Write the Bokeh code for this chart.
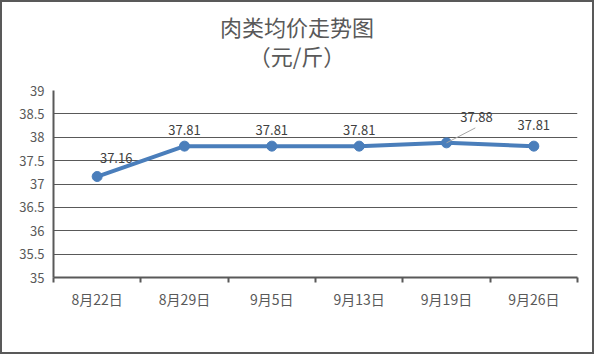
from bokeh.plotting import figure
from bokeh.models import (Range1d, FixedTicker, ColumnDataSource, Div)
from bokeh.layouts import column
from bokeh.core.properties import value
from bokeh.embed import file_html
from bokeh.resources import INLINE

categories = ["8月22日", "8月29日", "9月5日", "9月13日", "9月19日", "9月26日"]
prices = [37.16, 37.81, 37.81, 37.81, 37.88, 37.81]
label_texts = ["37.16", "37.81", "37.81", "37.81", "37.88", "37.81"]
y_ticks = [35, 35.5, 36, 36.5, 37, 37.5, 38, 38.5, 39]
y_tick_labels = ["35", "35.5", "36", "36.5", "37", "37.5", "38", "38.5", "39"]
title_lines = ["肉类均价走势图", "（元/斤）"]

# label offsets in screen pixels (style, not data); negative dy = upwards
label_dx = [19, 0, 0, 0, 30, 0]
label_dy = [-19, -16, -16, -16, -26, -21]

FONT = "Noto Sans CJK SC"
GRAY = "#595959"
LINE = "#4A7EBB"

xs = [i + 0.5 for i in range(len(categories))]

title_div = Div(text="<br>".join(title_lines), width=590, height=70,
                styles={"text-align": "center", "font-family": f"'{FONT}'",
                        "font-size": "22px", "line-height": "29px", "color": GRAY,
                        "padding-top": "10px", "box-sizing": "border-box",
                        "width": "590px", "margin": "0"})

p = figure(width=590, height=280, output_backend="svg", toolbar_location=None,
           x_range=Range1d(0, len(categories)), y_range=Range1d(35, 39),
           min_border_left=51, min_border_right=15, min_border_bottom=75, min_border_top=18)
p.outline_line_color = None
p.background_fill_color = "white"
p.border_fill_color = "white"

# x axis
p.xaxis.ticker = FixedTicker(ticks=xs, minor_ticks=list(range(len(categories) + 1)))
p.xaxis.major_label_overrides = {x: c for x, c in zip(xs, categories)}
p.xaxis.major_tick_line_color = None
p.xaxis.major_tick_out = 0
p.xaxis.major_tick_in = 0
p.xaxis.minor_tick_line_color = GRAY
p.xaxis.minor_tick_line_width = 2
p.xaxis.minor_tick_in = 0
p.xaxis.minor_tick_out = 5
p.xaxis.axis_line_color = GRAY
p.xaxis.axis_line_width = 2
p.xaxis.major_label_text_font = FONT
p.xaxis.major_label_text_font_size = "14px"
p.xaxis.major_label_text_color = GRAY
p.xaxis.major_label_standoff = 6
p.xgrid.grid_line_color = None

# y axis
p.yaxis.ticker = FixedTicker(ticks=y_ticks)
p.yaxis.major_label_overrides = {v: s for v, s in zip(y_ticks, y_tick_labels)}
p.yaxis.major_tick_line_color = None
p.yaxis.major_tick_out = 0
p.yaxis.major_tick_in = 0
p.yaxis.minor_tick_line_color = None
p.yaxis.axis_line_color = GRAY
p.yaxis.axis_line_width = 2
p.yaxis.major_label_text_font = FONT
p.yaxis.major_label_text_font_size = "13px"
p.yaxis.major_label_text_color = GRAY
p.yaxis.major_label_standoff = 9
p.ygrid.grid_line_color = GRAY
p.ygrid.grid_line_width = 1
p.ygrid.ticker = FixedTicker(ticks=y_ticks)

src = ColumnDataSource(dict(x=xs, y=prices, t=label_texts, dx=label_dx, dy=label_dy))

p.line("x", "y", source=src, line_color=LINE, line_width=4)
p.scatter("x", "y", source=src, size=10, fill_color=LINE, line_color=LINE)

# leader line for 37.88
i = 4
p.segment(x0=[xs[i]], y0=[prices[i]], x1=[xs[i] + 0.33], y1=[prices[i] + 0.32],
          line_color="#A6A6A6", line_width=1)

p.text("x", "y", text="t", source=src, x_offset="dx", y_offset="dy",
       text_align="center", text_baseline="middle", text_font=value(FONT),
       text_font_size="13px", text_color="#404040")

layout = column(title_div, p, spacing=0, width=594, height=354,
                styles={"border": "2px solid #595959", "box-sizing": "border-box",
                        "background-color": "white"})

open("out.html", "w").write(file_html(layout, INLINE))
